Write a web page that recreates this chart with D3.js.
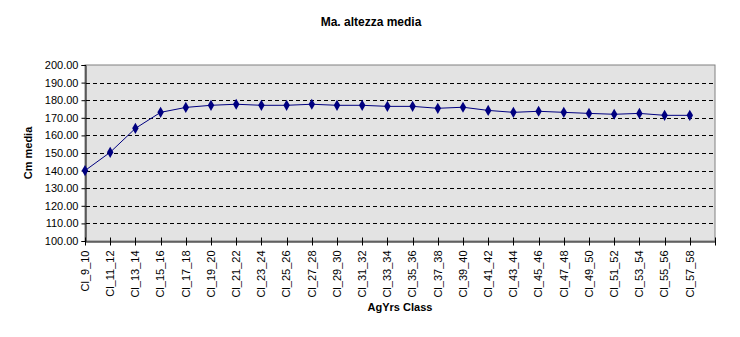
<!DOCTYPE html>
<html><head><meta charset="utf-8">
<script src="https://cdn.jsdelivr.net/npm/d3@7/dist/d3.min.js"></script>
<style>body{margin:0;background:#fff}svg{display:block;font-family:"Liberation Sans",Arial,sans-serif}</style>
</head><body><svg id="c" width="740" height="337"></svg>
<script>
const categories = ["Cl_9_10","Cl_11_12","Cl_13_14","Cl_15_16","Cl_17_18","Cl_19_20","Cl_21_22","Cl_23_24","Cl_25_26","Cl_27_28","Cl_29_30","Cl_31_32","Cl_33_34","Cl_35_36","Cl_37_38","Cl_39_40","Cl_41_42","Cl_43_44","Cl_45_46","Cl_47_48","Cl_49_50","Cl_51_52","Cl_53_54","Cl_55_56","Cl_57_58"];
const values = [140.0,150.4,164.0,173.1,175.9,177.1,177.7,177.1,177.1,177.7,177.1,177.1,176.5,176.5,175.4,176.0,174.2,173.1,173.7,173.1,172.5,172.0,172.5,171.4,171.4];
const yTicks = [100,110,120,130,140,150,160,170,180,190,200];
const title = "Ma. altezza media", xTitle = "AgYrs Class", yTitle = "Cm media";

const svg = d3.select("#c");
const L = 85, R = 715, T = 65, B = 241;
const x = d3.scaleBand().domain(categories).range([L, R]);
const y = d3.scaleLinear().domain([100, 200]).range([B, T]);

svg.append("rect").attr("x", L).attr("y", T).attr("width", R - L).attr("height", B - T)
  .attr("fill", "#e3e3e3").attr("stroke", "#808080").attr("stroke-width", 1);

// gridlines
svg.append("g").selectAll("line").data(yTicks.filter(d => d > 100 && d < 200)).join("line")
  .attr("x1", L + 1).attr("x2", R - 1)
  .attr("y1", d => Math.round(y(d)) + 0.5).attr("y2", d => Math.round(y(d)) + 0.5)
  .attr("stroke", "#000").attr("stroke-dasharray", "4,3");

// y axis
const ya = svg.append("g").attr("transform", `translate(${L + 0.5},0)`)
  .call(d3.axisLeft(y).tickValues(yTicks).tickFormat(d3.format(".2f")).tickSize(4).tickPadding(3));
ya.select(".domain").attr("stroke", "#000");
ya.selectAll("text").attr("font-size", 11).attr("fill", "#000");

// x axis
const xa = svg.append("g").attr("transform", `translate(0,${B + 0.5})`)
  .call(d3.axisBottom(x).tickSize(0).tickFormat(d => d));
xa.select(".domain").attr("stroke", "#000");
xa.selectAll(".tick").attr("transform", d => `translate(${x(d)},0)`);
xa.selectAll(".tick text").attr("font-size", 11).attr("fill", "#000")
  .attr("transform", "rotate(-90)").attr("text-anchor", "end")
  .attr("x", -9).attr("y", 0).attr("dy", "0.35em");
const tickPos = categories.map(c => x(c)).concat([R]);
xa.append("g").selectAll("line").data(tickPos).join("line")
  .attr("x1", d => Math.round(d) + 0.5).attr("x2", d => Math.round(d) + 0.5)
  .attr("y1", -4).attr("y2", 4).attr("stroke", "#000");

// line
const line = d3.line().x((d, i) => x(categories[i])).y(d => y(d));
svg.append("path").datum(values).attr("d", line).attr("fill", "none")
  .attr("stroke", "#000080").attr("stroke-width", 1);
svg.append("g").selectAll("path").data(values).join("path")
  .attr("transform", (d, i) => `translate(${x(categories[i])},${y(d)})`)
  .attr("d", d3.symbol(d3.symbolDiamond, 36)).attr("fill", "#000080");

// titles
svg.append("text").attr("x", 371).attr("y", 26).attr("text-anchor", "middle")
  .attr("font-size", 12).attr("font-weight", "bold").text(title);
svg.append("text").attr("x", 400).attr("y", 311).attr("text-anchor", "middle")
  .attr("font-size", 11).attr("font-weight", "bold").text(xTitle);
svg.append("text").attr("transform", `translate(32,153) rotate(-90)`).attr("text-anchor", "middle")
  .attr("font-size", 11).attr("font-weight", "bold").text(yTitle);
</script></body></html>
